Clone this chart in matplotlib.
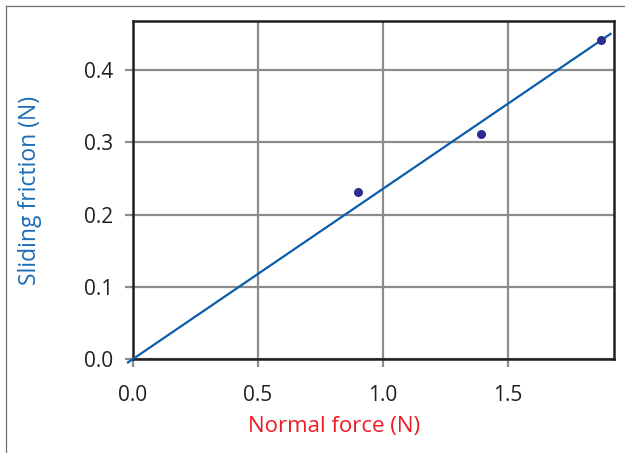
import matplotlib

matplotlib.use("Agg")
import matplotlib.pyplot as plt
from matplotlib.lines import Line2D
import numpy as np

# measured points
normal_force = [0.90, 1.39, 1.87]
sliding_friction = [0.231, 0.311, 0.442]

# best-fit line through the origin
fit_x = [-0.02, 1.91]
fit_slope = 0.2357

x_ticks = [0.0, 0.5, 1.0, 1.5]
y_ticks = [0.0, 0.1, 0.2, 0.3, 0.4]

plt.rcParams["font.family"] = ["Open Sans", "DejaVu Sans"]

fig = plt.figure(figsize=(6.25, 4.53), dpi=100)
ax = fig.add_axes([0.2128, 0.2075, 0.7688, 0.7461])

grid_color = "#8c8c8c"
ax.set_xlim(0, 1.922)
ax.set_ylim(0, 0.468)
ax.set_xticks(x_ticks)
ax.set_yticks(y_ticks)
ax.set_xticklabels([f"{v:.1f}" for v in x_ticks])
ax.set_yticklabels([f"{v:.1f}" for v in y_ticks])
ax.grid(True, color=grid_color, linewidth=1.6)
ax.set_axisbelow(True)
ax.tick_params(axis="both", direction="out", length=6, width=1.6, color=grid_color,
               labelsize=15, labelcolor="#231f20")
ax.tick_params(axis="x", pad=13)
ax.tick_params(axis="y", pad=8)
for spine in ax.spines.values():
    spine.set_color("#231f20")
    spine.set_linewidth(1.8)
    spine.set_zorder(3)

fx = np.array(fit_x)
ax.plot(fx, fit_slope * fx, color="#0b5cad", linewidth=1.6, clip_on=False, zorder=4)
ax.scatter(normal_force, sliding_friction, s=30, color="#2b2d8f", zorder=5, clip_on=False)

ax.set_xlabel("Normal force (N)", color="#ed1c24", fontsize=16)
ax.xaxis.set_label_coords(0.418, -0.201)
ax.xaxis.label.set_va("center")
ax.set_ylabel("Sliding friction (N)", color="#1c6cb5", fontsize=16.5)
ax.yaxis.set_label_coords(-0.214, 0.5)
ax.yaxis.label.set_va("center")

# thin frame around the figure (only top and left visible)
frame_kw = dict(color="#6d6e71", linewidth=0.9, transform=fig.transFigure)
fig.add_artist(Line2D([6 / 625, 6 / 625], [0, 1 - 6 / 453], **frame_kw))
fig.add_artist(Line2D([6 / 625, 1], [1 - 6 / 453, 1 - 6 / 453], **frame_kw))

fig.savefig("out.png", dpi=100)
